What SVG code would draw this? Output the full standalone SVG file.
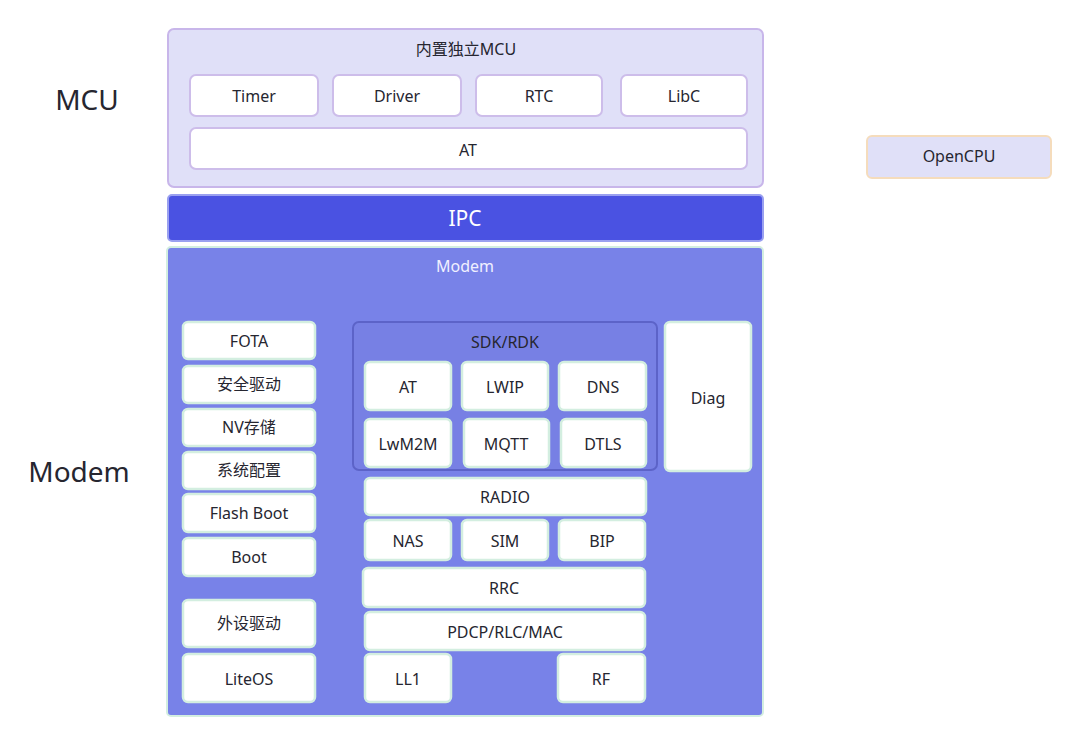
<svg xmlns="http://www.w3.org/2000/svg" width="1080" height="747" viewBox="0 0 1080 747">
<style>
text{font-family:"Noto Sans","Noto Sans CJK SC",sans-serif;text-anchor:middle;dominant-baseline:central;fill:#262630}
.lbl{font-size:16px}
.big{font-size:28px}
.mcu{fill:#e0e0f8;stroke:#c8b6ea;stroke-width:2}
.wm{fill:#ffffff;stroke:#cdbdea;stroke-width:2}
.wg{fill:#ffffff;stroke:#d3eee0;stroke-width:2.5}
</style>
<rect width="1080" height="747" fill="#ffffff"/>
<g id="label-mcu"><text class="big" x="87" y="99">MCU</text></g>
<g id="label-modem"><text class="big" x="79" y="471">Modem</text></g>

<g id="mcu">
<rect class="mcu" x="168" y="29" width="595" height="158" rx="6"/>
<text x="466" y="49" style="font-size:16px">内置独立MCU</text>
</g>
<g id="timer"><rect class="wm" x="190" y="75" width="128" height="41" rx="6"/><text class="lbl" x="254" y="96">Timer</text></g>
<g id="driver"><rect class="wm" x="333" y="75" width="128" height="41" rx="6"/><text class="lbl" x="397" y="96">Driver</text></g>
<g id="rtc"><rect class="wm" x="476" y="75" width="126" height="41" rx="6"/><text class="lbl" x="539" y="96">RTC</text></g>
<g id="libc"><rect class="wm" x="621" y="75" width="126" height="41" rx="6"/><text class="lbl" x="684" y="96">LibC</text></g>
<g id="mcu-at"><rect class="wm" x="190" y="128" width="557" height="41" rx="6"/><text class="lbl" x="468" y="150">AT</text></g>

<g id="ipc">
<rect x="168" y="195" width="595" height="46" rx="4" fill="#4a52e2" stroke="#9aa0f0" stroke-width="2"/>
<text x="465" y="218" style="font-size:21px;fill:#ffffff">IPC</text>
</g>

<g id="modem">
<rect x="167" y="247" width="596" height="469" rx="4" fill="#7882e8" stroke="#d3eee0" stroke-width="2"/>
<text x="465" y="266" style="font-size:16px;fill:#f0f0ff">Modem</text>
</g>

<g id="sdk">
<rect x="353" y="322" width="304" height="148" rx="6" fill="#7780e4" stroke="#5c63c8" stroke-width="2"/>
<text class="lbl" x="505" y="342">SDK/RDK</text>
</g>

<g id="fota"><rect class="wg" x="183" y="322" width="132" height="37" rx="5"/><text class="lbl" x="249" y="341">FOTA</text></g>
<g id="sec"><rect class="wg" x="183" y="366" width="132" height="37" rx="5"/><text class="lbl" x="249" y="384">安全驱动</text></g>
<g id="nv"><rect class="wg" x="183" y="409" width="132" height="37" rx="5"/><text class="lbl" x="249" y="427">NV存储</text></g>
<g id="syscfg"><rect class="wg" x="183" y="452" width="132" height="37" rx="5"/><text class="lbl" x="249" y="470">系统配置</text></g>
<g id="flashboot"><rect class="wg" x="183" y="494" width="132" height="38" rx="5"/><text class="lbl" x="249" y="513">Flash Boot</text></g>
<g id="boot"><rect class="wg" x="183" y="538" width="132" height="38" rx="5"/><text class="lbl" x="249" y="557">Boot</text></g>
<g id="periph"><rect class="wg" x="183" y="600" width="132" height="47" rx="5"/><text class="lbl" x="249" y="623">外设驱动</text></g>
<g id="liteos"><rect class="wg" x="183" y="654" width="132" height="48" rx="5"/><text class="lbl" x="249" y="679">LiteOS</text></g>

<g id="sdk-at"><rect class="wg" x="365" y="362" width="86" height="48" rx="5"/><text class="lbl" x="408" y="387">AT</text></g>
<g id="lwip"><rect class="wg" x="462" y="362" width="86" height="48" rx="5"/><text class="lbl" x="505" y="387">LWIP</text></g>
<g id="dns"><rect class="wg" x="559" y="362" width="87" height="48" rx="5"/><text class="lbl" x="603" y="387">DNS</text></g>
<g id="lwm2m"><rect class="wg" x="365" y="419" width="86" height="48" rx="5"/><text class="lbl" x="408" y="444">LwM2M</text></g>
<g id="mqtt"><rect class="wg" x="464" y="419" width="85" height="48" rx="5"/><text class="lbl" x="506" y="444">MQTT</text></g>
<g id="dtls"><rect class="wg" x="561" y="419" width="85" height="48" rx="5"/><text class="lbl" x="603" y="444">DTLS</text></g>
<g id="diag"><rect class="wg" x="665" y="322" width="86" height="149" rx="5"/><text class="lbl" x="708" y="398">Diag</text></g>

<g id="radio"><rect class="wg" x="365" y="478" width="281" height="37" rx="5"/><text class="lbl" x="505" y="497">RADIO</text></g>
<g id="nas"><rect class="wg" x="365" y="520" width="86" height="40" rx="5"/><text class="lbl" x="408" y="541">NAS</text></g>
<g id="sim"><rect class="wg" x="462" y="520" width="86" height="40" rx="5"/><text class="lbl" x="505" y="541">SIM</text></g>
<g id="bip"><rect class="wg" x="559" y="520" width="86" height="40" rx="5"/><text class="lbl" x="602" y="541">BIP</text></g>
<g id="rrc"><rect class="wg" x="363" y="568" width="282" height="39" rx="5"/><text class="lbl" x="504" y="588">RRC</text></g>
<g id="pdcp"><rect class="wg" x="365" y="612" width="280" height="38" rx="5"/><text class="lbl" x="505" y="632">PDCP/RLC/MAC</text></g>
<g id="ll1"><rect class="wg" x="365" y="654" width="86" height="48" rx="5"/><text class="lbl" x="408" y="679">LL1</text></g>
<g id="rf"><rect class="wg" x="558" y="654" width="87" height="48" rx="5"/><text class="lbl" x="601" y="679">RF</text></g>

<g id="opencpu">
<rect x="867" y="136" width="184" height="42" rx="5" fill="#e0e0f8" stroke="#f5dcbc" stroke-width="2"/>
<text class="lbl" x="959" y="156">OpenCPU</text>
</g>
<g id="connectors"></g>
</svg>
